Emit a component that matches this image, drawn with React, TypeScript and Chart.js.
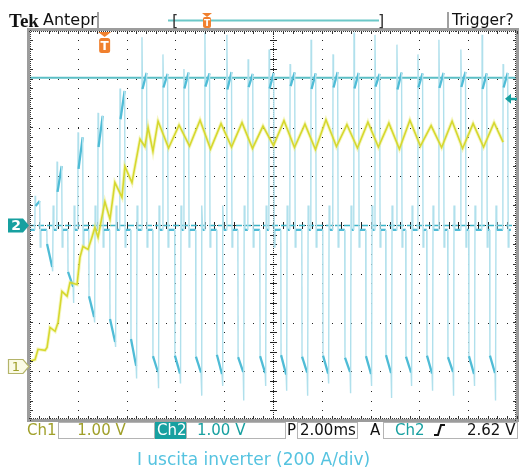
import React, { useEffect, useRef } from "react";
import { Chart, registerables } from "chart.js";

Chart.register(...registerables);

// ---- screen geometry (10 div x 2.00 ms, 8 div x 1.00 V/div) ----
const X_MIN = 0;
const X_MAX = 20;
const X_DIV = 2;
const Y_MIN = -4;
const Y_MAX = 4;
const CH1_GROUND_DIV = -2.9; // "1" marker
const CH2_GROUND_DIV = 0; // "2" marker

// ---- Ch1 (yellow) trace: time (ms) / volts ----
const ch1Times = [
  0, 0.25, 0.37, 0.66, 0.74, 0.86, 1.07, 1.19, 1.35, 1.56, 1.68, 1.97, 2.09, 2.21, 2.42, 2.58, 2.7, 2.83,
  3.11, 3.32, 3.52, 3.81, 3.93, 4.22, 4.55, 4.75, 4.88, 5.08, 5.29,
  5.72, 6.15, 6.58, 7.01, 7.44, 7.87, 8.3, 8.73, 9.16, 9.59, 10.02, 10.45, 10.88, 11.31, 11.74, 12.17,
  12.6, 13.03, 13.46, 13.89, 14.32, 14.75, 15.18, 15.61, 16.04, 16.48, 16.91, 17.34, 17.77, 18.2, 18.63,
  19.06, 19.43,
];
const ch1Volts = [
  0.1, 0.14, 0.35, 0.33, 0.39, 0.8, 0.72, 0.9, 1.54, 1.44, 1.72, 1.68, 2.24, 2.46, 2.4, 2.65, 2.85, 2.65,
  3.38, 3.02, 3.77, 3.47, 4.1, 3.77, 4.66, 4.51, 4.9, 4.41, 5.03,
  4.48, 4.95, 4.52, 5.05, 4.46, 4.98, 4.5, 5.0, 4.47, 4.93, 4.53, 5.04, 4.49, 4.97, 4.45, 5.06,
  4.51, 4.96, 4.48, 5.01, 4.5, 4.99, 4.46, 5.05, 4.52, 4.94, 4.49, 5.03, 4.47, 4.98, 4.5,
  5.0, 4.6,
];

// ---- Ch2 (cyan) current pulses ----
const posTimes = [
  0.25, 1.15, 2.01, 2.83, 3.73, 4.63, 5.49, 6.35, 7.21, 8.11, 8.98, 9.84, 10.7, 11.56, 12.46, 13.32, 14.18,
  15.08, 15.94, 16.8, 17.7, 18.57, 19.43,
];
const posSpike = [
  0.6, 1.3, 1.9, 2.3, 2.8, 3.85, 3.5, 3.2, 3.95, 3.9, 3.4, 3.6, 3.3, 3.8, 3.5, 3.95, 3.9, 3.7, 3.5, 3.8, 3.6, 3.9, 3.3,
];
const posLow = [
  0.39, 0.68, 1.15, 1.6, 2.17, 2.79, 2.82, 2.8, 2.84, 2.78, 2.83, 2.8, 2.85, 2.79, 2.82, 2.8, 2.84, 2.78, 2.82, 2.81,
  2.83, 2.79, 2.82,
];
const posHigh = [
  0.49, 1.21, 1.8, 2.24, 2.75, 3.12, 3.1, 3.13, 3.11, 3.14, 3.1, 3.12, 3.13, 3.11, 3.14, 3.12, 3.1, 3.13, 3.11, 3.12,
  3.14, 3.11, 3.12,
];
const negTimes = [
  0.74, 1.6, 2.46, 3.32, 4.18, 5.08, 5.98, 6.84, 7.7, 8.57, 9.47, 10.33, 11.19, 12.05, 12.95, 13.81, 14.63, 15.45,
  16.31, 17.17, 18.03, 18.89,
];
const negHigh = [
  -0.39, -0.96, -1.46, -1.93, -2.34, -2.69, -2.68, -2.7, -2.66, -2.71, -2.69, -2.67, -2.7, -2.68, -2.72, -2.69,
  -2.67, -2.7, -2.68, -2.71, -2.69, -2.68,
];
const negLow = [
  -0.86, -1.27, -1.89, -2.4, -2.89, -3.02, -3.05, -3.03, -3.06, -3.02, -3.04, -3.07, -3.03, -3.05, -3.02, -3.06,
  -3.04, -3.03, -3.05, -3.02, -3.06, -3.04,
];
const negSpike = [
  -0.95, -1.6, -2.0, -2.5, -3.15, -3.35, -3.25, -3.5, -3.3, -3.6, -3.3, -3.4, -3.5, -3.25, -3.45, -3.3, -3.55, -3.3,
  -3.4, -3.5, -3.3, -3.6,
];
const ch2Baseline = -0.1;
const ch2Undershoot = -0.45;
const ch2Overshoot = 0.4;
const ch2End = 19.75;
const POS_RAMP = 0.17;
const NEG_RAMP = 0.21;

// ---- cursors / trigger ----
const ch2Cursor = 3.02;
const ch2TriggerLevel = 2.62;
const triggerTime = 3.1;

// ---- texts ----
const brandText = "Tek";
const modeText = "Antepr";
const statusText = "Trigger?";
const ch1Label = "Ch1";
const ch1ScaleText = "1.00 V";
const ch2Label = "Ch2";
const ch2ScaleText = "1.00 V";
const timeLabel = "P";
const timeScaleText = "2.00ms";
const trigModeText = "A";
const trigSourceText = "Ch2";
const trigLevelText = "2.62 V";
const captionText = "I uscita inverter (200 A/div)";

const YEL = "#d6d82e";
const YEL_GLOW = "rgba(232,236,120,0.45)";
const CY_FAST = "#b0e0ec";
const CY_SLOW = "#4fbcd6";
const TEAL = "#17a0a0";
const OLIVE = "#a0a02a";
const ORANGE = "#f0802e";

function buildCh1() {
  return ch1Times.map((t, i) => ({ x: t, y: ch1Volts[i] + CH1_GROUND_DIV }));
}

function buildCh2() {
  const events: { t: number; pts: number[][] }[] = [];
  posTimes.forEach((t, i) =>
    events.push({
      t,
      pts: [
        [t - 0.01, ch2Baseline],
        [t, posSpike[i]],
        [t + 0.02, posLow[i]],
        [t + 0.02 + POS_RAMP, posHigh[i]],
        [t + 0.04 + POS_RAMP, ch2Undershoot],
        [t + 0.07 + POS_RAMP, ch2Baseline],
      ],
    })
  );
  negTimes.forEach((t, i) =>
    events.push({
      t,
      pts: [
        [t - 0.01, ch2Baseline],
        [t, negHigh[i]],
        [t + NEG_RAMP, negLow[i]],
        [t + NEG_RAMP + 0.02, negSpike[i]],
        [t + NEG_RAMP + 0.04, ch2Overshoot],
        [t + NEG_RAMP + 0.07, ch2Baseline],
      ],
    })
  );
  events.sort((a, b) => a.t - b.t);
  const out = [{ x: X_MIN, y: ch2Baseline + CH2_GROUND_DIV }];
  events.forEach((e) => e.pts.forEach(([x, y]) => out.push({ x, y: y + CH2_GROUND_DIV })));
  out.push({ x: ch2End, y: ch2Baseline + CH2_GROUND_DIV });
  return out;
}

const isFast = (c: any) => Math.abs(c.p1.x - c.p0.x) < 1.5;

const scopePlugin = {
  id: "scope",
  beforeDraw(chart: any) {
    const c = chart.ctx;
    c.save();
    c.fillStyle = "#ffffff";
    c.fillRect(0, 0, chart.width, chart.height);
    c.restore();
  },
  beforeDatasetsDraw(chart: any) {
    const c = chart.ctx;
    const xs = chart.scales.x;
    const ys = chart.scales.y;
    const { left, right, top, bottom } = chart.chartArea;
    c.save();
    c.fillStyle = "#222";
    // dotted division lines
    for (let d = X_MIN + X_DIV; d < X_MAX; d += X_DIV) {
      if (Math.abs(d - (X_MIN + X_MAX) / 2) < 1e-6) continue;
      const x = Math.round(xs.getPixelForValue(d));
      for (let v = Y_MIN + 0.2; v < Y_MAX - 0.01; v += 0.2) {
        c.fillRect(x, Math.round(ys.getPixelForValue(v)), 1, 1);
      }
    }
    for (let v = Y_MIN + 1; v < Y_MAX; v += 1) {
      if (v === 0) continue;
      const y = Math.round(ys.getPixelForValue(v));
      for (let t = X_MIN + 0.4; t < X_MAX - 0.01; t += 0.4) {
        c.fillRect(Math.round(xs.getPixelForValue(t)), y, 1, 1);
      }
    }
    // center cross with ticks
    const cx = Math.round(xs.getPixelForValue((X_MIN + X_MAX) / 2));
    const cy = Math.round(ys.getPixelForValue(0));
    for (let y = top + 2; y < bottom; y += 2) c.fillRect(cx, y, 1, 1);
    for (let x = left + 2; x < right; x += 2) c.fillRect(x, cy, 1, 1);
    for (let v = Y_MIN + 0.2; v < Y_MAX - 0.01; v += 0.2) {
      c.fillRect(cx - 3, Math.round(ys.getPixelForValue(v)), 7, 1);
    }
    for (let t = X_MIN + 0.4; t < X_MAX - 0.01; t += 0.4) {
      c.fillRect(Math.round(xs.getPixelForValue(t)), cy - 3, 1, 7);
    }
    // Ch2 ground dashed line
    c.strokeStyle = "#3cb4c8";
    c.lineWidth = 1.5;
    c.setLineDash([6, 3]);
    c.beginPath();
    c.moveTo(left, ys.getPixelForValue(CH2_GROUND_DIV) + 0.5);
    c.lineTo(right, ys.getPixelForValue(CH2_GROUND_DIV) + 0.5);
    c.stroke();
    c.setLineDash([]);
    // cursor line
    c.strokeStyle = "#5cbfc6";
    c.lineWidth = 2;
    const yc = ys.getPixelForValue(ch2Cursor + CH2_GROUND_DIV);
    c.beginPath();
    c.moveTo(left, yc);
    c.lineTo(right, yc);
    c.stroke();
    c.restore();
  },
  afterDraw(chart: any) {
    const c = chart.ctx;
    const xs = chart.scales.x;
    const ys = chart.scales.y;
    const { left, right, top, bottom } = chart.chartArea;
    c.save();
    // frame
    c.strokeStyle = "#9c9c9c";
    c.lineWidth = 3;
    c.strokeRect(left - 0.5, top - 0.5, right - left + 1, bottom - top + 1);
    c.fillStyle = "#333";
    for (let t = X_MIN; t <= X_MAX + 0.001; t += 0.08) {
      const x = Math.round(xs.getPixelForValue(t));
      c.fillRect(x, top + 1, 1, 1);
      c.fillRect(x, bottom - 2, 1, 1);
    }
    for (let t = X_MIN + 0.4; t < X_MAX; t += 0.4) {
      const x = Math.round(xs.getPixelForValue(t));
      c.fillRect(x, top + 1, 1, 3);
      c.fillRect(x, bottom - 4, 1, 3);
    }
    for (let v = Y_MIN; v <= Y_MAX + 0.001; v += 0.04) {
      const y = Math.round(ys.getPixelForValue(v));
      c.fillRect(left + 1, y, 1, 1);
      c.fillRect(right - 2, y, 1, 1);
    }
    for (let v = Y_MIN + 0.2; v < Y_MAX; v += 0.2) {
      const y = Math.round(ys.getPixelForValue(v));
      c.fillRect(left + 1, y, 3, 1);
      c.fillRect(right - 4, y, 3, 1);
    }

    // channel ground markers
    const y2 = Math.round(ys.getPixelForValue(CH2_GROUND_DIV)) + 0.5;
    c.fillStyle = TEAL;
    c.beginPath();
    c.moveTo(8, y2 - 7);
    c.lineTo(23, y2 - 7);
    c.lineTo(29, y2);
    c.lineTo(23, y2 + 7);
    c.lineTo(8, y2 + 7);
    c.closePath();
    c.fill();
    c.fillStyle = "#fff";
    c.font = 'bold 14px "DejaVu Sans"';
    c.textAlign = "center";
    c.textBaseline = "middle";
    c.fillText("2", 16, y2 + 1);

    const y1 = Math.round(ys.getPixelForValue(CH1_GROUND_DIV)) + 0.5;
    c.fillStyle = "#fbfbe6";
    c.strokeStyle = "#b4b46a";
    c.lineWidth = 1.2;
    c.beginPath();
    c.moveTo(8.5, y1 - 7);
    c.lineTo(23, y1 - 7);
    c.lineTo(29, y1);
    c.lineTo(23, y1 + 7);
    c.lineTo(8.5, y1 + 7);
    c.closePath();
    c.fill();
    c.stroke();
    c.fillStyle = OLIVE;
    c.font = '13px "DejaVu Sans"';
    c.fillText("1", 16, y1 + 1);

    // trigger level arrow (right)
    const yt = ys.getPixelForValue(ch2TriggerLevel + CH2_GROUND_DIV) + 1.5;
    c.fillStyle = TEAL;
    c.beginPath();
    c.moveTo(505, yt);
    c.lineTo(511, yt - 5);
    c.lineTo(511, yt + 5);
    c.closePath();
    c.fill();
    c.fillRect(510, yt - 1, 7, 2.5);

    // trigger position marker
    const xt = xs.getPixelForValue(triggerTime);
    c.fillStyle = ORANGE;
    c.beginPath();
    c.moveTo(xt - 6.5, top + 2);
    c.lineTo(xt + 6.5, top + 2);
    c.lineTo(xt, top + 7);
    c.closePath();
    c.fill();
    c.beginPath();
    c.roundRect(xt - 5.5, top + 8, 11, 15, 2.5);
    c.fill();
    c.fillStyle = "#fff";
    c.font = 'bold 12px "DejaVu Sans"';
    c.textAlign = "center";
    c.textBaseline = "alphabetic";
    c.fillText("T", xt, top + 20);

    // header
    c.textAlign = "left";
    c.fillStyle = "#111";
    c.font = 'bold 19px "Liberation Serif"';
    c.fillText(brandText, 9, 27);
    c.font = '16px "DejaVu Sans"';
    c.fillText(modeText, 43, 25);
    c.font = '15.5px "DejaVu Sans"';
    c.fillText(statusText, 452, 25);
    c.fillStyle = "#a0a0a0";
    c.fillRect(97, 12, 2, 17);
    c.fillRect(447, 12, 2, 17);
    // record window bar
    c.strokeStyle = "#6cc8c8";
    c.lineWidth = 2;
    c.beginPath();
    c.moveTo(168, 20.5);
    c.lineTo(379, 20.5);
    c.stroke();
    c.fillStyle = "#333";
    c.font = '16px "DejaVu Sans"';
    c.fillText("[", 172, 26);
    c.fillText("]", 378, 26);
    c.fillStyle = ORANGE;
    c.beginPath();
    c.moveTo(202, 13);
    c.lineTo(212, 13);
    c.lineTo(207, 17);
    c.closePath();
    c.fill();
    c.beginPath();
    c.roundRect(203, 17, 8, 11, 2);
    c.fill();
    c.fillStyle = "#fff";
    c.font = 'bold 9px "DejaVu Sans"';
    c.textAlign = "center";
    c.fillText("T", 207, 26);

    // status bar
    const base = 435;
    c.textAlign = "left";
    c.font = '15px "DejaVu Sans"';
    c.strokeStyle = "#b4b4b4";
    c.lineWidth = 1;
    c.fillStyle = OLIVE;
    c.fillText(ch1Label, 27, base);
    c.strokeRect(58.5, 422.5, 96, 16);
    c.textAlign = "center";
    c.fillText(ch1ScaleText, 101.5, base);
    c.textAlign = "left";
    c.fillStyle = TEAL;
    c.fillRect(155, 422, 31, 17);
    c.fillStyle = "#fff";
    c.fillText(ch2Label, 157, base);
    c.strokeRect(186.5, 422.5, 99, 16);
    c.fillStyle = TEAL;
    c.fillText(ch2ScaleText, 197, base);
    c.fillStyle = "#111";
    c.fillText(timeLabel, 287, base);
    c.strokeRect(297.5, 422.5, 60, 16);
    c.fillText(timeScaleText, 300, base);
    c.fillText(trigModeText, 370, base);
    c.strokeRect(383.5, 422.5, 134, 16);
    c.fillStyle = TEAL;
    c.fillText(trigSourceText, 395, base);
    c.fillStyle = "#111";
    c.fillText(trigLevelText, 467, base);
    c.strokeStyle = "#111";
    c.lineWidth = 2;
    c.beginPath();
    c.moveTo(434, base);
    c.lineTo(438, base);
    c.lineTo(441, base - 10);
    c.lineTo(445, base - 10);
    c.stroke();

    // caption
    c.fillStyle = "#55c3e0";
    c.font = '17px "DejaVu Sans"';
    c.textAlign = "center";
    c.fillText(captionText, 253.5, 465);
    c.restore();
  },
};

export default function App() {
  const ref = useRef<HTMLCanvasElement | null>(null);
  useEffect(() => {
    if (!ref.current) return;
    const chart = new Chart(ref.current, {
      type: "line",
      data: {
        datasets: [
          {
            data: buildCh1(),
            borderColor: YEL,
            borderWidth: 1.6,
            pointRadius: 0,
            tension: 0,
            order: 0,
          },
          {
            data: buildCh1(),
            borderColor: YEL_GLOW,
            borderWidth: 3.5,
            pointRadius: 0,
            tension: 0,
            order: 1,
          },
          {
            data: buildCh2(),
            borderColor: CY_SLOW,
            borderWidth: 2,
            pointRadius: 0,
            tension: 0,
            order: 2,
            segment: {
              borderColor: (ctx: any) => (isFast(ctx) ? CY_FAST : CY_SLOW),
              borderWidth: (ctx: any) => (isFast(ctx) ? 1.4 : 2.3),
            },
          },
        ] as any,
      },
      options: {
        responsive: false,
        maintainAspectRatio: false,
        devicePixelRatio: 1,
        animation: false,
        events: [],
        layout: { padding: { left: 29, top: 30, right: 3, bottom: 52 } },
        scales: {
          x: { type: "linear", min: X_MIN, max: X_MAX, display: false },
          y: { type: "linear", min: Y_MIN, max: Y_MAX, display: false },
        },
        plugins: { legend: { display: false }, tooltip: { enabled: false } },
      },
      plugins: [scopePlugin],
    });
    return () => chart.destroy();
  }, []);
  return (
    <div style={{ position: "fixed", left: 0, top: 0, width: 520, height: 472, background: "#fff" }}>
      <canvas ref={ref} width={520} height={472} style={{ display: "block" }} />
    </div>
  );
}
